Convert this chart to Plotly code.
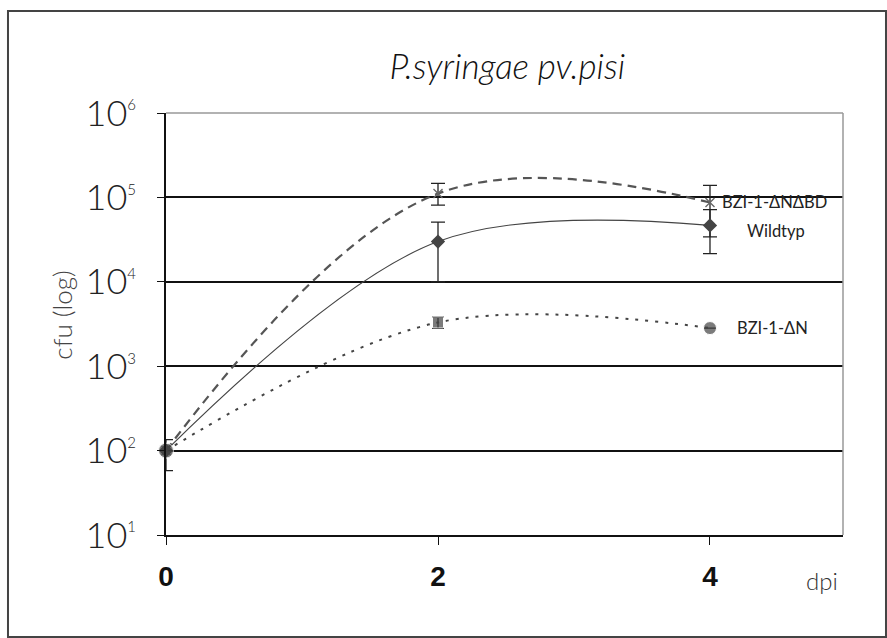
import plotly.graph_objects as go

# Days post inoculation and bacterial counts (cfu) per line
dpi = [0, 2, 4]
wildtyp = [100, 30000, 46600]
wildtyp_err_plus = [35, 21000, 25000]
wildtyp_err_minus = [42, 20000, 25000]
dn_dbd = [100, 111000, 87000]
dn_dbd_err_plus = [0, 36000, 52000]
dn_dbd_err_minus = [0, 30000, 53000]
dn = [100, 3300, 2830]
dn_err = [0, 500, 0]

y_tickvals = [10, 100, 1000, 10000, 100000, 1000000]
y_exponents = ["1", "2", "3", "4", "5", "6"]
y_ticktext = ["10<sup><span style='font-size:15px'>%s</span></sup>" % e for e in y_exponents]
x_tickvals = [0, 2, 4]
x_ticktext = ["0", "2", "4"]

TEXT_FONT = "Lato, 'Open Sans', sans-serif"
NARROW_FONT = "'Liberation Sans Narrow', 'Liberation Sans', Arial, sans-serif"

fig = go.Figure()

fig.add_trace(go.Scatter(
    x=dpi, y=dn_dbd, mode="lines+markers", name="BZI-1-ΔNΔBD", cliponaxis=False,
    line=dict(shape="spline", smoothing=1.1, color="#555555", width=2.2, dash="9px,6px"),
    marker=dict(symbol="x-thin", size=9, line=dict(color="#666666", width=1.3)),
    error_y=dict(type="data", array=dn_dbd_err_plus, arrayminus=dn_dbd_err_minus,
                 color="#222222", thickness=1.3, width=7),
))

fig.add_trace(go.Scatter(
    x=dpi, y=wildtyp, mode="lines+markers", name="Wildtyp", cliponaxis=False,
    line=dict(shape="spline", smoothing=1, color="#444444", width=1.1),
    marker=dict(symbol="diamond", size=11, color="#444444"),
    error_y=dict(type="data", array=wildtyp_err_plus, arrayminus=wildtyp_err_minus,
                 color="#222222", thickness=1.3, width=7),
))

fig.add_trace(go.Scatter(
    x=dpi, y=dn, mode="lines+markers", name="BZI-1-ΔN", cliponaxis=False,
    line=dict(shape="spline", smoothing=1, color="#444444", width=2, dash="3px,7px"),
    marker=dict(symbol=["circle", "square", "circle"], size=[15, 11, 13], color="#444444"),
    error_y=dict(type="data", array=dn_err, color="#222222", thickness=1.3, width=6),
))

# Series labels next to the last points
fig.add_annotation(x=4, y=5.0 - 0.06, xref="x", yref="y", text="BZI-1-ΔNΔBD",
                   showarrow=False, xanchor="left", yanchor="middle", xshift=10,
                   font=dict(family=TEXT_FONT, size=16.5, color="#222222"))
fig.add_annotation(x=4, y=4.605, xref="x", yref="y", text="Wildtyp",
                   showarrow=False, xanchor="center", yanchor="middle", xshift=66,
                   font=dict(family=TEXT_FONT, size=16.5, color="#222222"))
fig.add_annotation(x=4, y=3.452, xref="x", yref="y", text="BZI-1-ΔN",
                   showarrow=False, xanchor="left", yanchor="middle", xshift=25,
                   font=dict(family=TEXT_FONT, size=16.5, color="#222222"))

# Axis captions
fig.add_annotation(x=-0.155, y=0.52, xref="paper", yref="paper", text="cfu (log)",
                   showarrow=False, textangle=-90, xanchor="center", yanchor="middle",
                   font=dict(family=TEXT_FONT, size=26, color="#444444", weight=300))
fig.add_annotation(x=0.969, y=-0.109, xref="paper", yref="paper", text="dpi",
                   showarrow=False, xanchor="center", yanchor="middle",
                   font=dict(family=TEXT_FONT, size=24, color="#333333", weight=300))

# Light frame on the top and right of the plot area, outer border of the figure
fig.add_shape(type="line", xref="paper", yref="paper", x0=0, x1=1, y0=1, y1=1,
              line=dict(color="#999999", width=1.5))
fig.add_shape(type="line", xref="paper", yref="paper", x0=1, x1=1, y0=0, y1=1,
              line=dict(color="#999999", width=1.5))
fig.add_shape(type="rect", xref="paper", yref="paper",
              x0=-0.2334, x1=1.0635, y0=-0.2417, y1=1.2417,
              line=dict(color="#444444", width=2))

fig.update_layout(
    width=887, height=638,
    margin=dict(l=166, r=44, t=113, b=103),
    paper_bgcolor="white", plot_bgcolor="white",
    showlegend=False,
    title=dict(text="<i>P.syringae pv.pisi</i>", x=0.572, xanchor="center",
               y=0.895, yanchor="middle",
               font=dict(family=TEXT_FONT, size=35, color="#111111", weight=300)),
    xaxis=dict(range=[0, 4.978], tickvals=x_tickvals, ticktext=x_ticktext,
               showgrid=False, zeroline=False, showline=True, linecolor="#111111",
               linewidth=1.5, ticks="outside", ticklen=8, tickcolor="#111111",
               tickwidth=1.2, ticklabelstandoff=8,
               tickfont=dict(family=NARROW_FONT, size=28, color="#111111", weight="bold")),
    yaxis=dict(type="log", range=[1, 6], tickvals=y_tickvals, ticktext=y_ticktext,
               showgrid=True, gridcolor="#111111", gridwidth=1.5, zeroline=False,
               showline=True, linecolor="#111111", linewidth=1.5,
               ticks="outside", ticklen=7, tickcolor="#111111", tickwidth=1.2,
               ticklabelstandoff=14,
               tickfont=dict(family=TEXT_FONT, size=36, color="#222222", weight=300)),
)

fig.write_html("out.html")
